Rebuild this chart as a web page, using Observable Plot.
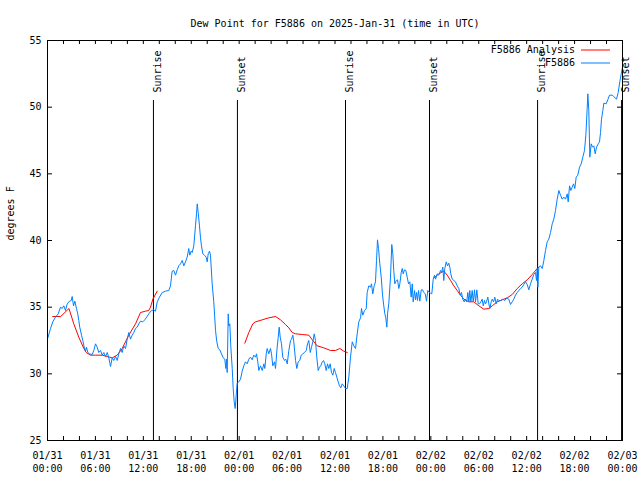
<!DOCTYPE html>
<html><head><meta charset="utf-8">
<script src="https://cdn.jsdelivr.net/npm/d3@7"></script>
<script src="https://cdn.jsdelivr.net/npm/@observablehq/plot@0.6"></script>
<style>body{margin:0;background:#fff}</style>
</head><body><div id="chart"></div>
<script>
const titleText = "Dew Point for F5886 on 2025-Jan-31 (time in UTC)";
const yLabelText = "degrees F";
const seriesNames = ["F5886 Analysis", "F5886"];
const seriesColors = ["#ff0000", "#0080ff"];
const startUTC = "2025-01-31T00:00Z";

// Observations (hours since start, dew point °F)
const obsHours = [0.05,0.38,0.66,1.0,1.34,1.63,1.84,2.04,2.25,2.47,2.75,2.97,3.09,3.26,3.42,3.63,3.79,3.92,4.04,4.26,4.42,4.60,4.76,4.88,5.05,5.26,5.60,5.80,6.01,6.22,6.42,6.64,6.85,7.05,7.26,7.48,7.68,7.89,8.10,8.30,8.52,8.73,8.93,9.14,9.35,9.55,9.77,9.98,10.18,10.39,10.61,10.81,11.02,11.23,11.43,11.65,11.93,12.18,12.48,12.68,13.02,13.31,13.52,13.74,14.02,14.36,14.78,15.19,15.40,15.61,15.82,16.03,16.24,16.44,16.65,16.87,17.07,17.28,17.49,17.69,17.82,17.99,18.12,18.32,18.53,18.66,18.75,18.87,19.03,19.16,19.28,19.45,19.66,19.87,20.0,20.12,20.29,20.41,20.62,20.82,21.04,21.20,21.38,21.58,21.79,22.0,22.20,22.33,22.41,22.50,22.63,22.70,22.83,22.95,23.13,23.25,23.38,23.50,23.63,23.75,23.95,24.17,24.38,24.58,24.79,25.0,25.21,25.42,25.63,25.83,26.05,26.17,26.33,26.46,26.67,26.89,27.09,27.21,27.39,27.51,27.71,27.92,28.05,28.21,28.43,28.55,28.76,28.89,29.01,29.14,29.30,29.46,29.68,29.84,30.02,30.22,30.43,30.55,30.72,30.84,31.06,31.22,31.39,31.59,31.77,31.97,32.18,32.40,32.56,32.72,32.90,33.06,33.22,33.40,33.56,33.72,33.90,34.06,34.22,34.40,34.56,34.72,34.90,35.06,35.22,35.40,35.56,35.73,35.90,36.06,36.23,36.40,36.56,36.73,36.90,37.10,37.32,37.53,37.73,37.94,38.16,38.36,38.57,38.78,38.98,39.20,39.32,39.48,39.70,39.91,40.03,40.23,40.45,40.57,40.73,40.91,41.07,41.20,41.32,41.45,41.61,41.79,41.95,42.11,42.24,42.36,42.49,42.58,42.74,42.95,43.11,43.24,43.36,43.49,43.67,43.83,43.99,44.12,44.29,44.42,44.54,44.70,44.87,45.04,45.21,45.37,45.54,45.67,45.79,45.96,46.08,46.21,46.33,46.46,46.62,46.80,46.96,47.12,47.30,47.46,47.62,47.80,47.96,48.12,48.30,48.46,48.59,48.80,49.0,49.21,49.34,49.50,49.62,49.75,49.93,50.09,50.25,50.38,50.50,50.68,50.88,51.09,51.30,51.50,51.68,51.84,52.0,52.18,52.34,52.50,52.63,52.76,52.88,53.01,53.18,53.31,53.47,53.60,53.76,53.93,54.10,54.26,54.43,54.56,54.72,54.85,54.97,55.14,55.26,55.39,55.56,55.69,55.85,56.01,56.19,56.35,56.51,56.76,57.01,57.26,57.51,57.76,57.98,58.19,58.39,58.60,58.82,59.02,59.23,59.44,59.64,59.85,60.07,60.27,60.48,60.69,60.89,61.11,61.23,61.32,61.40,61.52,61.73,61.95,62.15,62.36,62.57,62.77,62.99,63.20,63.40,63.61,63.82,64.03,64.24,64.45,64.65,64.87,65.08,65.20,65.37,65.53,65.70,65.87,66.03,66.20,66.40,66.62,66.83,67.03,67.24,67.41,67.58,67.66,67.78,67.91,68.08,68.25,68.41,68.58,68.75,68.96,69.12,69.25,69.37,69.54,69.66,69.96,70.16,70.37,70.71,70.91,71.25,71.46,71.66,71.84,72.0];
const obsDew = [32.7,33.4,33.9,34.25,34.5,35.0,34.9,35.1,34.75,35.25,35.45,35.5,35.8,35.1,35.45,34.9,34.5,34.0,33.5,32.9,32.5,32.0,31.7,32.0,31.6,31.5,31.45,31.75,32.25,32.0,31.6,31.75,31.4,31.6,31.3,31.6,31.2,30.55,31.2,31.0,31.3,31.0,31.5,31.9,31.6,32.1,31.9,32.6,33.1,32.6,32.9,33.1,33.4,33.5,33.75,33.95,33.9,34.05,34.3,34.5,34.75,34.8,34.7,35.4,35.75,36.1,36.2,36.25,36.6,37.7,37.75,37.4,37.8,38.1,38.25,38.5,38.1,38.4,38.75,39.4,38.9,39.2,39.1,39.6,41.1,42.0,42.75,42.1,41.1,40.2,39.6,39.0,38.9,38.75,38.4,39.0,39.2,38.9,36.75,35.4,33.25,32.4,31.9,31.8,31.5,31.2,31.1,30.4,31.1,30.1,34.5,33.6,33.75,32.1,30.4,28.9,27.9,27.4,28.4,29.3,29.4,29.6,30.2,30.6,30.9,30.75,31.1,31.25,31.05,31.4,31.25,31.5,30.9,30.25,30.6,30.25,30.75,30.4,31.5,31.9,31.5,31.9,31.5,30.6,30.9,30.4,32.0,32.75,33.5,32.75,32.25,31.25,31.0,31.1,30.75,31.75,32.5,32.6,32.9,32.4,31.0,30.4,30.9,31.0,31.4,31.5,31.6,31.75,32.25,32.5,31.6,32.0,32.4,33.0,32.5,31.25,30.25,30.5,30.6,30.9,31.0,30.75,30.25,30.75,30.4,30.75,30.1,29.9,30.4,30.1,29.75,29.4,29.1,28.95,29.25,29.1,28.9,28.9,29.75,31.25,32.4,32.1,31.9,33.0,33.9,34.2,34.9,34.4,34.75,34.9,36.1,36.6,36.5,36.75,36.0,36.6,36.9,38.5,40.05,39.4,38.25,37.25,35.9,35.1,34.5,34.2,33.5,34.5,35.3,37.25,39.7,39.0,37.75,36.75,37.0,37.05,36.4,36.75,37.6,37.9,37.5,37.8,37.75,37.25,36.75,36.9,35.75,36.75,35.4,36.25,35.55,36.1,35.5,36.25,35.45,36.3,36.3,36.1,36.0,35.45,36.25,36.1,36.05,36.0,37.1,37.4,37.1,37.5,37.4,37.75,37.6,38.0,37.0,37.9,38.4,38.1,38.3,38.0,37.5,37.1,37.0,36.9,36.6,36.4,35.9,36.1,35.6,35.4,35.6,35.4,36.1,35.4,36.25,35.4,36.25,35.4,36.3,35.4,36.3,35.25,35.25,35.4,35.6,35.1,35.5,35.25,35.4,35.75,35.25,34.9,35.4,35.6,35.4,35.75,35.25,35.6,35.5,35.5,35.6,35.5,35.7,35.6,35.2,35.4,35.6,35.9,36.1,36.25,36.4,36.5,36.7,36.9,36.7,36.3,36.75,37.1,37.45,37.6,37.0,37.9,36.5,38.0,38.1,37.9,38.5,39.25,39.9,40.1,40.6,41.25,41.6,42.25,43.1,43.75,43.4,43.1,43.25,43.1,43.5,42.9,44.1,43.75,44.0,44.25,43.9,44.75,44.9,45.5,45.75,46.25,46.75,47.9,49.9,51.0,49.75,46.25,47.25,47.0,47.1,46.5,47.0,47.25,47.4,48.1,49.1,49.75,50.3,50.25,50.55,50.9,50.9,50.8,50.6,51.1,51.9,52.5,53.0];

// Analysis (hours since start, dew point °F); null = no analysis
const anaHours = [0.65,1.65,2.69,3.29,3.92,4.55,4.85,5.38,6.01,6.85,7.48,8.10,8.73,9.35,10.18,11.02,11.65,12.27,12.68,12.90,13.19,13.74,19.0,24.71,25.21,25.71,26.05,26.89,27.71,28.55,29.18,29.80,30.22,30.64,31.06,31.90,32.72,33.15,33.77,34.60,35.44,36.06,36.60,37.10,37.53,43.0,48.4,49.0,49.62,50.05,50.47,50.88,51.30,51.72,52.13,52.76,53.38,54.01,54.64,55.26,55.69,56.31,56.94,57.57,58.19,58.82,59.44,60.07,60.69,61.32,61.52];
const anaDew = [34.3,34.3,34.9,33.75,32.75,31.9,31.6,31.4,31.4,31.4,31.3,31.2,31.4,31.9,32.9,33.75,34.6,34.7,34.75,35.0,35.6,36.2,null,32.3,33.1,33.75,33.9,34.05,34.2,34.3,34.05,33.7,33.45,33.1,33.0,32.95,32.9,32.55,32.1,31.95,31.75,31.75,31.9,31.7,31.6,null,37.2,37.5,37.7,37.4,37.0,36.6,36.25,35.9,35.6,35.4,35.4,35.1,34.85,34.9,35.1,35.4,35.55,35.7,35.95,36.4,36.75,37.05,37.45,37.9,38.0];

const sunTimes = ["2025-01-31T13:16Z","2025-01-31T23:47Z","2025-02-01T13:19Z","2025-02-01T23:50Z","2025-02-02T13:22Z","2025-02-02T23:53Z"];
const sunLabels = ["Sunrise","Sunset","Sunrise","Sunset","Sunrise","Sunset"];

const xLabelTimes = ["2025-01-31T00:00Z","2025-01-31T06:00Z","2025-01-31T12:00Z","2025-01-31T18:00Z","2025-02-01T00:00Z","2025-02-01T06:00Z","2025-02-01T12:00Z","2025-02-01T18:00Z","2025-02-02T00:00Z","2025-02-02T06:00Z","2025-02-02T12:00Z","2025-02-02T18:00Z","2025-02-03T00:00Z"];
const xTickLabels = ["01/31\n00:00","01/31\n06:00","01/31\n12:00","01/31\n18:00","02/01\n00:00","02/01\n06:00","02/01\n12:00","02/01\n18:00","02/02\n00:00","02/02\n06:00","02/02\n12:00","02/02\n18:00","02/03\n00:00"];
const yTicks = [25,30,35,40,45,50,55];

const t0 = Date.parse(startUTC);
const toDate = h => new Date(t0 + h * 36e5);
const obs = obsHours.map((h, i) => ({time: toDate(h), dew: obsDew[i]}));
const ana = anaHours.map((h, i) => ({time: toDate(h), dew: anaDew[i]}));
const sun = sunTimes.map((s, i) => ({time: new Date(s), label: sunLabels[i]}));
const labelMap = new Map(xLabelTimes.map((s, i) => [Date.parse(s), xTickLabels[i]]));
const xLabelDates = xLabelTimes.map(s => new Date(s));
const xTickDates = d3.utcHour.every(2).range(new Date(t0), new Date(t0 + 72 * 36e5 + 1));

const W = 640, H = 480, mL = 47, mR = 18, mT = 40, mB = 40;
const innerW = W - mL - mR, innerH = H - mT - mB;

const chart = Plot.plot({
  width: W, height: H,
  marginLeft: mL, marginRight: mR, marginTop: mT, marginBottom: mB,
  style: {fontFamily: "'DejaVu Sans Mono', monospace", fontSize: "10px", background: "white", color: "black", overflow: "visible"},
  x: {type: "utc", domain: [new Date(t0), new Date(t0 + 72 * 36e5)]},
  y: {domain: [25, 55]},
  marks: [
    Plot.ruleX(xTickDates, {x: d => d, insetTop: innerH - 4, stroke: "black"}),
    Plot.ruleX(xTickDates, {x: d => d, insetBottom: innerH - 4, stroke: "black"}),
    Plot.ruleY(yTicks, {y: d => d, insetRight: innerW - 5, stroke: "black"}),
    Plot.ruleY(yTicks, {y: d => d, insetLeft: innerW - 5, stroke: "black"}),
    Plot.ruleX(sun, {x: "time", insetTop: 60, stroke: "black", strokeWidth: 1}),
    Plot.text(sun, {x: "time", text: "label", frameAnchor: "top", rotate: -90, textAnchor: "start", dy: 52, fill: "black"}),
    Plot.line(ana, {x: "time", y: "dew", stroke: seriesColors[0], strokeWidth: 1, curve: "linear"}),
    Plot.line(obs, {x: "time", y: "dew", stroke: seriesColors[1], strokeWidth: 1, curve: "linear"}),
    Plot.frame({stroke: "black"}),
    Plot.axisY({ticks: yTicks, tickSize: 0, tickPadding: 6, label: null, tickFormat: d => String(d)}),
    Plot.axisX({ticks: xLabelDates, tickSize: 0, tickPadding: 9, label: null, lineHeight: 1.3, tickFormat: d => labelMap.get(+d)}),
    Plot.text([titleText], {text: d => d, frameAnchor: "top", dy: -21, fill: "black"}),
    Plot.text([yLabelText], {text: d => d, frameAnchor: "left", rotate: -90, dx: -37, fill: "black"})
  ]
});

const svg = d3.select(chart);
const lg = svg.append("g").attr("font-family", "'DejaVu Sans Mono', monospace").attr("font-size", 10);
seriesNames.forEach((name, i) => {
  const y = 50 + i * 13;
  lg.append("text").attr("x", 575).attr("y", y).attr("dy", "0.32em").attr("text-anchor", "end").attr("fill", "black").text(name);
  lg.append("line").attr("x1", 581).attr("x2", 610).attr("y1", y).attr("y2", y).attr("stroke", seriesColors[i]).attr("stroke-width", 1);
});

document.getElementById("chart").appendChild(chart);
</script>
</body></html>
